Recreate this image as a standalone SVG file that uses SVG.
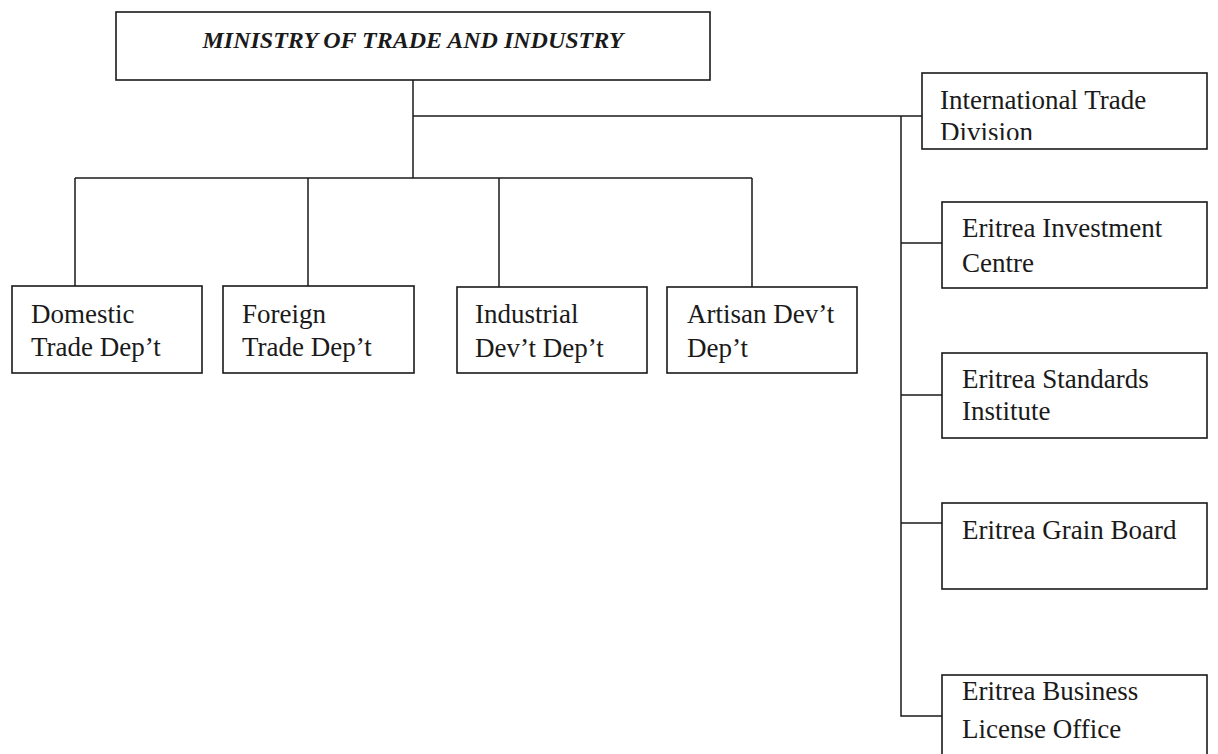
<svg xmlns="http://www.w3.org/2000/svg" width="1218" height="754" viewBox="0 0 1218 754">
<style>
.box{fill:#fff;stroke:#1a1a1a;stroke-width:1.6}
.ln{fill:none;stroke:#1a1a1a;stroke-width:1.5}
.t{font-family:"Liberation Serif","Times New Roman",serif;font-size:27px;fill:#1a1a1a}
.title{font-family:"Liberation Serif","Times New Roman",serif;font-size:24px;font-weight:bold;font-style:italic;fill:#1a1a1a}
</style>
<defs>
<clipPath id="clipITD"><rect x="922" y="73" width="286" height="67"/></clipPath>
</defs>
<rect width="1218" height="754" fill="#fff"/>
<g id="connectors">
<path class="ln" d="M413 80 V178"/>
<path class="ln" d="M413 116 H922"/>
<path class="ln" d="M75 178 H752"/>
<path class="ln" d="M75 178 V286 M308 178 V286 M499 178 V287 M752 178 V287"/>
<path class="ln" d="M901 116 V716 H942"/>
<path class="ln" d="M901 243 H942 M901 395 H942 M901 523 H942"/>
</g>
<g id="ministry">
<rect class="box" x="116" y="12" width="594" height="68"/>
<text class="title" x="413" y="48" text-anchor="middle">MINISTRY OF TRADE AND INDUSTRY</text>
</g>
<g id="international-trade">
<rect class="box" x="922" y="73" width="285" height="76"/>
<text class="t" clip-path="url(#clipITD)"><tspan x="940" y="109">International Trade</tspan><tspan x="940" y="141">Division</tspan></text>
</g>
<g id="domestic">
<rect class="box" x="12" y="286" width="190" height="87"/>
<text class="t"><tspan x="31" y="323">Domestic</tspan><tspan x="31" y="356">Trade Dep’t</tspan></text>
</g>
<g id="foreign">
<rect class="box" x="223" y="286" width="191" height="87"/>
<text class="t"><tspan x="242" y="323">Foreign</tspan><tspan x="242" y="356">Trade Dep’t</tspan></text>
</g>
<g id="industrial">
<rect class="box" x="457" y="287" width="190" height="86"/>
<text class="t"><tspan x="475" y="323">Industrial</tspan><tspan x="475" y="357">Dev’t Dep’t</tspan></text>
</g>
<g id="artisan">
<rect class="box" x="667" y="287" width="190" height="86"/>
<text class="t"><tspan x="687" y="323">Artisan Dev’t</tspan><tspan x="687" y="357">Dep’t</tspan></text>
</g>
<g id="investment">
<rect class="box" x="942" y="202" width="265" height="86"/>
<text class="t"><tspan x="962" y="237">Eritrea Investment</tspan><tspan x="962" y="272">Centre</tspan></text>
</g>
<g id="standards">
<rect class="box" x="942" y="353" width="265" height="85"/>
<text class="t"><tspan x="962" y="388">Eritrea Standards</tspan><tspan x="962" y="420">Institute</tspan></text>
</g>
<g id="grain">
<rect class="box" x="942" y="503" width="265" height="86"/>
<text class="t" x="962" y="539">Eritrea Grain Board</text>
</g>
<g id="business">
<rect class="box" x="942" y="675" width="265" height="95"/>
<text class="t"><tspan x="962" y="700">Eritrea Business</tspan><tspan x="962" y="738">License Office</tspan></text>
</g>
</svg>
